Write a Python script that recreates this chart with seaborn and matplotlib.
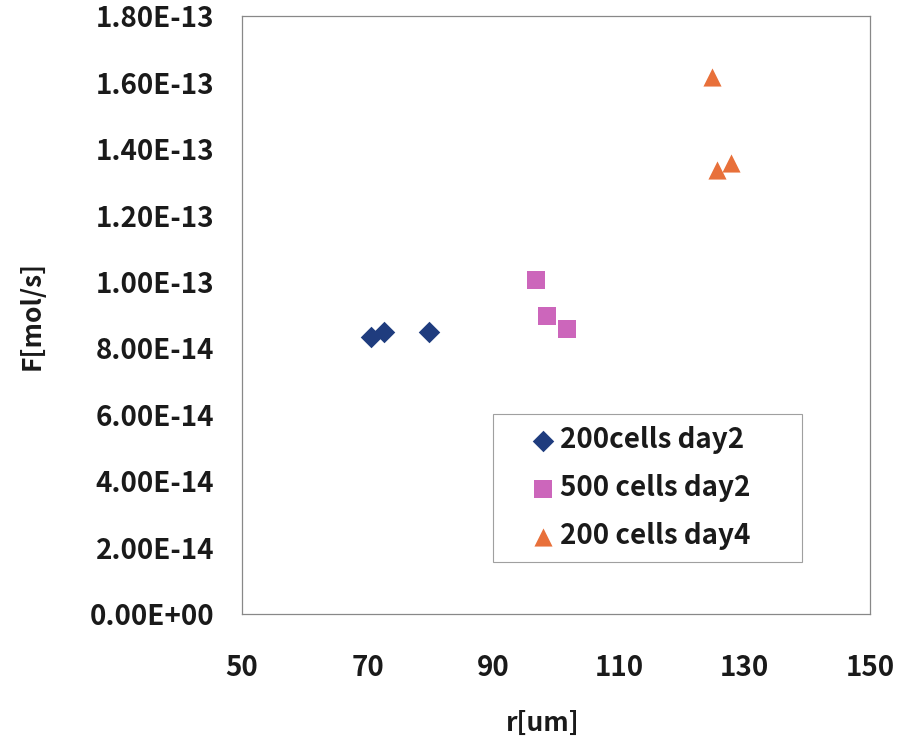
import numpy as np
import pandas as pd
import matplotlib
matplotlib.use("Agg")
import matplotlib.pyplot as plt
import seaborn as sns
from matplotlib.ticker import FuncFormatter

# Valores
grupos = ["200cells day2", "500 cells day2", "200 cells day4"]
r_200_d2 = [70.5, 72.6, 79.7]
f_200_d2 = [8.34e-14, 8.50e-14, 8.51e-14]
r_500_d2 = [96.8, 98.5, 101.8]
f_500_d2 = [1.005e-13, 8.98e-14, 8.60e-14]
r_200_d4 = [124.8, 125.6, 127.8]
f_200_d4 = [1.617e-13, 1.337e-13, 1.358e-13]

x_ticks = [50, 70, 90, 110, 130, 150]
y_ticks = [0, 2e-14, 4e-14, 6e-14, 8e-14, 1e-13, 1.2e-13, 1.4e-13, 1.6e-13, 1.8e-13]

cores = {grupos[0]: "#1F3C7E", grupos[1]: "#CC66BB", grupos[2]: "#E8703A"}
marcadores = {grupos[0]: "D", grupos[1]: "s", grupos[2]: "^"}
tamanhos = {grupos[0]: 120, grupos[1]: 150, grupos[2]: 170}

df = pd.DataFrame({
    "r": r_200_d2 + r_500_d2 + r_200_d4,
    "F": f_200_d2 + f_500_d2 + f_200_d4,
    "grupo": [grupos[0]] * 3 + [grupos[1]] * 3 + [grupos[2]] * 3,
})

sns.set_style("white")
plt.rcParams["font.family"] = ["Noto Sans CJK JP", "DejaVu Sans"]

fig = plt.figure(figsize=(9.21, 7.40), dpi=100)
ax = fig.add_axes([0.2628, 0.170, 0.682, 0.808])

for g in grupos:
    sub = df[df["grupo"] == g]
    sns.scatterplot(data=sub, x="r", y="F", ax=ax, color=cores[g], marker=marcadores[g],
                    s=tamanhos[g], linewidth=0, label=g)

ax.set_xlim(50, 150)
ax.set_ylim(0, 1.8e-13)
ax.set_xticks(x_ticks)
ax.set_yticks(y_ticks)

# Formato tipo Excel: 1.80E-13
def fmt_y(v, pos):
    if v == 0:
        return "0.00E+00"
    e = int(np.floor(np.log10(abs(v))))
    m = v / 10 ** e
    return f"{m:.2f}E-{abs(e):02d}"

ax.yaxis.set_major_formatter(FuncFormatter(fmt_y))
ax.tick_params(axis="both", direction="in", length=7, width=0.8, color="#777777",
               labelsize=20, labelcolor="#1a1a1a")
ax.tick_params(axis="x", pad=29)
ax.tick_params(axis="y", pad=20)
for t in ax.get_xticklabels() + ax.get_yticklabels():
    t.set_fontweight("bold")

for s in ax.spines.values():
    s.set_color("#888888")
    s.set_linewidth(0.9)

ax.set_xlabel("r[um]", fontsize=19, fontweight="bold", color="#1a1a1a")
ax.set_ylabel("F[mol/s]", fontsize=19, fontweight="bold", color="#1a1a1a")
ax.xaxis.set_label_coords(0.479, -0.160)
ax.yaxis.set_label_coords(-0.312, 0.50)

leg = ax.legend(loc="lower left", bbox_to_anchor=(0.400, 0.087, 0.492, 0.246),
                mode="expand", borderaxespad=0,
                fancybox=False, frameon=True, edgecolor="#888888",
                prop={"size": 20, "weight": "bold"}, labelspacing=0.72,
                handletextpad=-0.75, handlelength=2.73, borderpad=0.43, markerscale=1.0)
leg.get_frame().set_linewidth(0.8)
for t in leg.get_texts():
    t.set_color("#1a1a1a")

fig.savefig("out.png", dpi=100)
